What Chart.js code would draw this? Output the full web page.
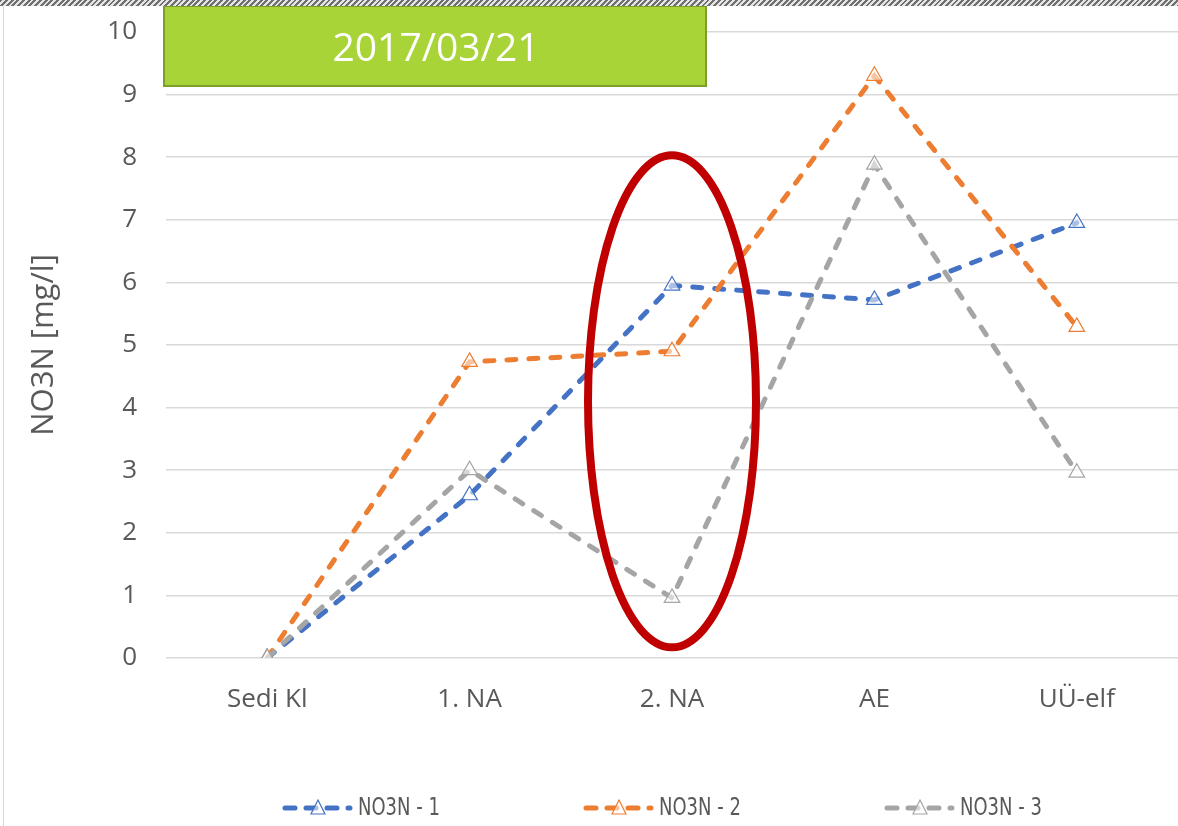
<!DOCTYPE html>
<html>
<head>
<meta charset="utf-8">
<script src="https://cdn.jsdelivr.net/npm/chart.js@4.4.1/dist/chart.umd.min.js"></script>
<style>
  body { margin: 0; background: #fff; }
  #wrap { position: relative; width: 1178px; height: 826px; overflow: hidden; }
  #hatch { position: absolute; left: 0; top: 0; width: 1178px; height: 6px;
    background: repeating-linear-gradient(135deg, #6f6f6f 0 2px, #e6e6e6 2px 4px); }
  #edge { position: absolute; left: 3px; top: 6px; width: 1px; height: 820px; background: #d6d6d6; }
</style>
</head>
<body>
<div id="wrap">
  <canvas id="canvas" width="1178" height="826"></canvas>
  <div id="hatch"></div>
  <div id="edge"></div>
</div>
<script>
const categories = ['Sedi Kl', '1. NA', '2. NA', 'AE', 'UÜ-elf'];
const no3n1 = [0, 2.6, 5.95, 5.72, 6.95];
const no3n2 = [0, 4.73, 4.9, 9.3, 5.29];
const no3n3 = [0, 3.0, 0.96, 7.88, 2.96];
const seriesNames = ['NO3N - 1', 'NO3N - 2', 'NO3N - 3'];
const seriesColors = ['#4472c4', '#ed7d31', '#a5a5a5'];
const yMin = 0, yMax = 10, yStep = 1;
const yTitle = 'NO3N [mg/l]';
const dateLabel = '2017/03/21';
const circledCategory = '2. NA';

const textColor = '#595959';
const tickFont = { family: '"Open Sans", sans-serif', size: 26 };

function series(label, values, color, order) {
  return {
    label: label,
    data: values,
    borderColor: color,
    borderWidth: 5,
    borderDash: [9, 13],
    borderCapStyle: 'round',
    fill: false,
    tension: 0,
    pointStyle: 'triangle',
    pointRadius: 9,
    pointBorderWidth: 1.2,
    pointBorderColor: color,
    pointBackgroundColor: 'rgba(255,255,255,0.55)',
    order: order
  };
}

// date box, red ellipse and the legend row
const extras = {
  id: 'extras',
  afterDraw(chart) {
    const ctx = chart.ctx;
    const x = chart.scales.x, y = chart.scales.y;

    // red ellipse around the 2. NA column
    ctx.save();
    ctx.strokeStyle = '#c00000';
    ctx.lineWidth = 8;
    ctx.beginPath();
    ctx.ellipse(x.getPixelForValue(categories.indexOf(circledCategory)), y.getPixelForValue(4.1), 84, 246, 0, 0, Math.PI * 2);
    ctx.stroke();
    ctx.restore();

    // green date box
    ctx.save();
    ctx.fillStyle = '#a9d437';
    ctx.strokeStyle = '#7b9f2a';
    ctx.lineWidth = 2;
    ctx.fillRect(164, 6, 542, 80);
    ctx.strokeRect(164, 6, 542, 80);
    ctx.fillStyle = '#ffffff';
    ctx.font = '39px "Open Sans", sans-serif';
    ctx.textAlign = 'center';
    ctx.textBaseline = 'middle';
    ctx.fillText(dateLabel, 436, 50);
    ctx.restore();

    // legend
    const ly = 808;
    chart.data.datasets.forEach((ds, i) => {
      const x0 = 282 + i * 301;
      ctx.save();
      ctx.strokeStyle = ds.borderColor;
      ctx.lineWidth = 5;
      ctx.lineCap = 'round';
      ctx.setLineDash([10, 11]);
      ctx.beginPath();
      ctx.moveTo(x0 + 3, ly);
      ctx.lineTo(x0 + 68, ly);
      ctx.stroke();
      ctx.setLineDash([]);
      ctx.lineWidth = 1.2;
      ctx.fillStyle = 'rgba(255,255,255,0.55)';
      ctx.beginPath();
      ctx.moveTo(x0 + 36, ly - 8);
      ctx.lineTo(x0 + 43, ly + 6);
      ctx.lineTo(x0 + 29, ly + 6);
      ctx.closePath();
      ctx.fill();
      ctx.stroke();
      ctx.fillStyle = textColor;
      ctx.font = '25px "Liberation Sans Narrow", "DejaVu Sans Condensed", sans-serif';
      ctx.textAlign = 'left';
      ctx.textBaseline = 'middle';
      ctx.translate(x0 + 76, ly);
      ctx.scale(0.8, 1);
      ctx.fillText(ds.label, 0, 0);
      ctx.restore();
    });
  }
};

new Chart(document.getElementById('canvas'), {
  type: 'line',
  data: {
    labels: categories,
    datasets: [
      series(seriesNames[0], no3n1, seriesColors[0], 3),
      series(seriesNames[1], no3n2, seriesColors[1], 2),
      series(seriesNames[2], no3n3, seriesColors[2], 1)
    ]
  },
  options: {
    responsive: false,
    animation: false,
    layout: { autoPadding: false, padding: { top: 32, right: -3, bottom: 108, left: 0 } },
    plugins: {
      legend: { display: false },
      tooltip: { enabled: false }
    },
    scales: {
      x: {
        offset: true,
        grid: { display: false },
        border: { display: false },
        ticks: { color: textColor, font: tickFont, padding: 18, maxRotation: 0 },
        afterFit(scale) {
          scale.height = 60;
          scale.paddingLeft = 0;
          scale.paddingRight = 0;
        }
      },
      y: {
        min: yMin,
        max: yMax,
        ticks: { stepSize: yStep, color: textColor, font: tickFont, padding: 29 },
        grid: { color: '#d9d9d9', lineWidth: 1.5, drawTicks: false },
        border: { display: false },
        title: {
          display: true,
          text: yTitle,
          color: textColor,
          font: { family: '"Open Sans", sans-serif', size: 31 },
          padding: { top: 26, bottom: 0 }
        },
        afterFit(scale) {
          scale.width = 166;
          scale.paddingTop = 0;
          scale.paddingBottom = 0;
        }
      }
    }
  },
  plugins: [extras]
});
</script>
</body>
</html>
